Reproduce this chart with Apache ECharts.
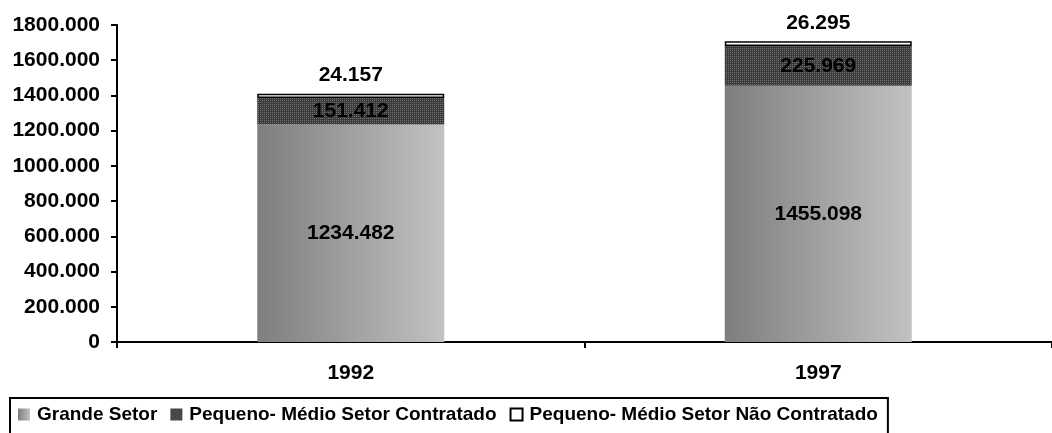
<!DOCTYPE html>
<html>
<head>
<meta charset="utf-8">
<script src="https://cdn.jsdelivr.net/npm/echarts@6/dist/echarts.min.js"></script>
<style>
  html, body { margin: 0; padding: 0; background: #fff; }
  #chart { width: 1052px; height: 433px; }
</style>
</head>
<body>
<div id="chart"></div>
<script>
// Years on the category axis
const years = ['1992', '1997'];
// Series names
const seriesNames = ['Grande Setor', 'Pequeno- Médio Setor Contratado', 'Pequeno- Médio Setor Não Contratado'];
// Values per sector and year
const grandeSetor = [1234482, 1455098];
const pequenoContratado = [151412, 225969];
const pequenoNaoContratado = [24157, 26295];
// Value axis range
const yMax = 1800000;
const yStep = 200000;

// "1234.482"-style number format
function fmt(v) {
  if (v < 1000) return String(v);
  return Math.floor(v / 1000) + '.' + String(v % 1000).padStart(3, '0');
}

// Dotted fill for the middle segment
function makeDots() {
  const c = document.createElement('canvas');
  c.width = 4; c.height = 4;
  const ctx = c.getContext('2d');
  ctx.fillStyle = '#3a3a3a';
  ctx.fillRect(0, 0, 4, 4);
  ctx.fillStyle = '#727272';
  [[0, 0], [2, 0], [0, 2], [2, 2]].forEach(p => ctx.fillRect(p[0], p[1], 1, 1));
  return c;
}

const FONT = '"Liberation Sans", Arial, sans-serif';
const txt = { color: '#000', fontFamily: FONT, fontWeight: 'bold', fontSize: 21 };

const chart = echarts.init(document.getElementById('chart'), null, { renderer: 'canvas' });

chart.setOption({
  animation: false,
  backgroundColor: '#fff',
  grid: { left: 117, top: 25, width: 944, bottom: 91, containLabel: false },
  legend: {
    left: 10,
    top: 398,
    orient: 'horizontal',
    icon: 'rect',
    itemWidth: 12,
    itemHeight: 12,
    itemGap: 13,
    padding: [7, 10, 30, 8],
    borderColor: '#000',
    borderWidth: 2,
    textStyle: Object.assign({}, txt, { fontSize: 19, padding: [0, 0, 0, 2] }),
    data: seriesNames
  },
  xAxis: {
    type: 'category',
    data: years,
    axisLine: { lineStyle: { color: '#000', width: 2 } },
    axisTick: { show: true, length: 6, lineStyle: { color: '#000', width: 2 } },
    axisLabel: Object.assign({}, txt, { margin: 21 }),
    splitLine: { show: false }
  },
  yAxis: {
    type: 'value',
    min: 0,
    max: yMax,
    interval: yStep,
    axisLine: { show: true, lineStyle: { color: '#000', width: 2 } },
    axisTick: { show: true, length: 6, lineStyle: { color: '#000', width: 2 } },
    axisLabel: Object.assign({}, txt, { margin: 17, formatter: fmt }),
    splitLine: { show: false }
  },
  series: [
    {
      name: seriesNames[0],
      type: 'bar',
      stack: 'total',
      barWidth: '40%',
      data: grandeSetor,
      itemStyle: {
        color: new echarts.graphic.LinearGradient(0, 0, 1, 0, [
          { offset: 0, color: '#7e7e7e' },
          { offset: 1, color: '#c2c2c2' }
        ])
      },
      label: Object.assign({ show: true, position: 'inside', formatter: p => fmt(p.value) }, txt)
    },
    {
      name: seriesNames[1],
      type: 'bar',
      stack: 'total',
      barWidth: '40%',
      data: pequenoContratado,
      itemStyle: { color: { image: makeDots(), repeat: 'repeat' } },
      label: Object.assign({ show: true, position: 'inside', formatter: p => fmt(p.value) }, txt)
    },
    {
      name: seriesNames[2],
      type: 'bar',
      stack: 'total',
      barWidth: '40%',
      data: pequenoNaoContratado,
      itemStyle: { color: '#fff', borderColor: '#000', borderWidth: 1.5 },
      label: Object.assign({ show: true, position: 'top', distance: 8, formatter: p => fmt(p.value) }, txt)
    }
  ]
});
</script>
</body>
</html>
